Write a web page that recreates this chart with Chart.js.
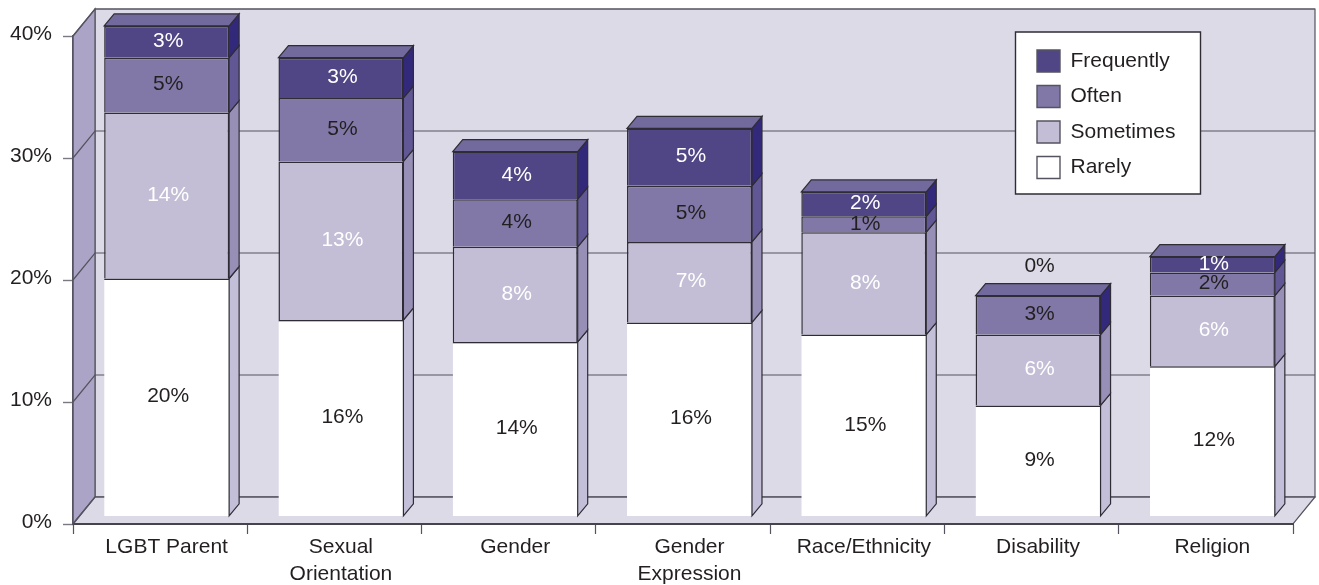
<!DOCTYPE html>
<html lang="en">
<head>
<title>Chart</title>
<style>
  body { margin: 0; background: #fff; }
  canvas { display: block; }
</style>
</head>
<body>
<canvas id="myChart" width="1319" height="585"></canvas>
<script src="https://cdn.jsdelivr.net/npm/chart.js@4"></script>
<script>
var categories = ["LGBT Parent", ["Sexual", "Orientation"], "Gender", ["Gender", "Expression"], "Race/Ethnicity", "Disability", "Religion"];
var seriesNames = ["Rarely", "Sometimes", "Often", "Frequently"];
var rarely = [19.5, 16.1, 14.3, 15.9, 14.9, 9.1, 12.3];
var sometimes = [13.6, 13.0, 7.8, 6.6, 8.4, 5.8, 5.8];
var often = [4.5, 5.2, 3.9, 4.6, 1.3, 3.2, 1.9];
var frequently = [2.6, 3.3, 3.9, 4.7, 2.0, 0, 1.3];

var frontColors = ["#ffffff", "#c3bed6", "#8278a8", "#504685"];
var sideColors = ["#c4bfd8", "#988fb7", "#615795", "#33297a"];
var labelColors = ["#231f20", "#ffffff", "#231f20", "#ffffff"];
var topColor = "#72699c";
var wallColor = "#dcdae7";
var leftWallColor = "#aba4c6";
var lineColor = "#2f2c35";
var textColor = "#231f20";

// offset of the bars from the axis plane, depth of one bar, depth of the whole box
var planeX = 6.5, planeY = -7.6;
var barDX = 10, barDY = -12;
var wallDX = 22, wallDY = -27;

function poly(ctx, pts, fill, stroke, width) {
  ctx.beginPath();
  ctx.moveTo(pts[0][0], pts[0][1]);
  for (var i = 1; i < pts.length; i++) ctx.lineTo(pts[i][0], pts[i][1]);
  ctx.closePath();
  ctx.fillStyle = fill;
  ctx.fill();
  if (stroke) {
    ctx.strokeStyle = stroke;
    ctx.lineWidth = width || 1;
    ctx.stroke();
  }
}

var box3d = {
  id: "box3d",
  beforeDraw: function (chart) {
    var ctx = chart.ctx, x = chart.scales.x, y = chart.scales.y;
    var l = x.left, r = x.right, t = y.getPixelForValue(40), b = y.getPixelForValue(0);
    ctx.save();
    poly(ctx, [[l + wallDX, t + wallDY], [r + wallDX, t + wallDY], [r + wallDX, b + wallDY], [l + wallDX, b + wallDY]], wallColor, "#55535f", 1.2);
    poly(ctx, [[l, t], [l + wallDX, t + wallDY], [l + wallDX, b + wallDY], [l, b]], leftWallColor, "#55535f", 1.2);
    poly(ctx, [[l, b], [l + wallDX, b + wallDY], [r + wallDX, b + wallDY], [r, b]], wallColor, "#55535f", 1.2);
    ctx.strokeStyle = "#55535f";
    ctx.lineWidth = 1.2;
    y.ticks.forEach(function (tick) {
      var py = y.getPixelForValue(tick.value);
      ctx.beginPath();
      ctx.moveTo(l, py);
      ctx.lineTo(l + wallDX, py + wallDY);
      ctx.lineTo(r + wallDX, py + wallDY);
      ctx.stroke();
    });
    // legend panel
    poly(ctx, [[1015.5, 32], [1200.5, 32], [1200.5, 194], [1015.5, 194]], "#ffffff", lineColor, 1.4);
    ctx.restore();
    chart.legend.left = 1023.5;
    chart.legend.top = 36.5;
  },
  beforeDatasetsDraw: function (chart) {
    chart.ctx.save();
    chart.ctx.translate(planeX, planeY);
  },
  afterDatasetsDraw: function (chart) {
    var ctx = chart.ctx;
    var sets = chart.data.datasets;
    for (var i = 0; i < categories.length; i++) {
      var last = 0;
      sets.forEach(function (ds, d) { if (ds.data[i] > 0) last = d; });
      sets.forEach(function (ds, d) {
        if (ds.data[i] <= 0) return;
        var bar = chart.getDatasetMeta(d).data[i];
        var right = bar.x + bar.width / 2, left = bar.x - bar.width / 2;
        poly(ctx, [[right, bar.y], [right + barDX, bar.y + barDY], [right + barDX, bar.base + barDY], [right, bar.base]],
          d === last ? sideColors[3] : sideColors[d], lineColor, 1.2);
        if (d === last) {
          poly(ctx, [[left, bar.y], [left + barDX, bar.y + barDY], [right + barDX, bar.y + barDY], [right, bar.y]], topColor, lineColor, 1.2);
        }
      });
    }
    // value labels
    ctx.font = "21px 'Liberation Sans'";
    ctx.textAlign = "center";
    ctx.textBaseline = "middle";
    sets.forEach(function (ds, d) {
      chart.getDatasetMeta(d).data.forEach(function (bar, i) {
        var cy = (bar.y + bar.base) / 2 - 0.5;
        if (ds.data[i] === 0) cy = bar.y - 29;
        ctx.fillStyle = ds.data[i] === 0 ? textColor : labelColors[d];
        ctx.fillText(Math.round(ds.data[i]) + "%", bar.x + 1.5, cy);
      });
    });
    ctx.restore();
  }
};

var seriesValues = [rarely, sometimes, often, frequently];

new Chart("myChart", {
  type: "bar",
  data: {
    labels: categories,
    datasets: seriesNames.map(function (name, d) {
      return {
        label: name,
        data: seriesValues[d],
        backgroundColor: frontColors[d],
        borderColor: lineColor,
        borderWidth: d === 0 ? { top: 1.5, left: 0, right: 0, bottom: 0 } : { top: 1.5, left: 1.5, right: 1.5, bottom: 0 },
        borderSkipped: false,
        clip: false
      };
    })
  },
  options: {
    responsive: false,
    animation: false,
    layout: { padding: { top: 36, right: 26, left: 0, bottom: 0 } },
    font: { family: "'Liberation Sans'" },
    datasets: { bar: { barPercentage: 0.717, categoryPercentage: 1 } },
    plugins: {
      tooltip: { enabled: false },
      legend: {
        position: "chartArea",
        align: "start",
        reverse: true,
        labels: {
          boxWidth: 23,
          boxHeight: 22,
          padding: 13.5,
          color: textColor,
          font: { family: "'Liberation Sans'", size: 21 },
          generateLabels: function (chart) {
            return Chart.defaults.plugins.legend.labels.generateLabels(chart).map(function (item) {
              item.lineWidth = 1.4;
              item.strokeStyle = "#55535f";
              return item;
            });
          }
        }
      }
    },
    scales: {
      x: {
        stacked: true,
        afterFit: function (scale) { scale.height = 61; },
        grid: { drawOnChartArea: false, tickLength: 10, tickColor: "#55535f", tickWidth: 1.2 },
        border: { color: "#45434c", width: 2 },
        ticks: {
          color: textColor,
          padding: 0,
          labelOffset: 6.5,
          maxRotation: 0,
          font: { family: "'Liberation Sans'", size: 21, lineHeight: 1.28 }
        }
      },
      y: {
        stacked: true,
        min: 0,
        max: 40,
        afterFit: function (scale) { scale.width = 73; },
        grid: { drawOnChartArea: false, tickLength: 10, tickColor: "#7a7880", tickWidth: 1.4 },
        border: { color: "#55535f", width: 1.4 },
        ticks: {
          stepSize: 10,
          color: textColor,
          padding: 11,
          labelOffset: -2,
          font: { family: "'Liberation Sans'", size: 21 },
          callback: function (v) { return v + "%"; }
        }
      }
    }
  },
  plugins: [box3d]
});
</script>
</body>
</html>
